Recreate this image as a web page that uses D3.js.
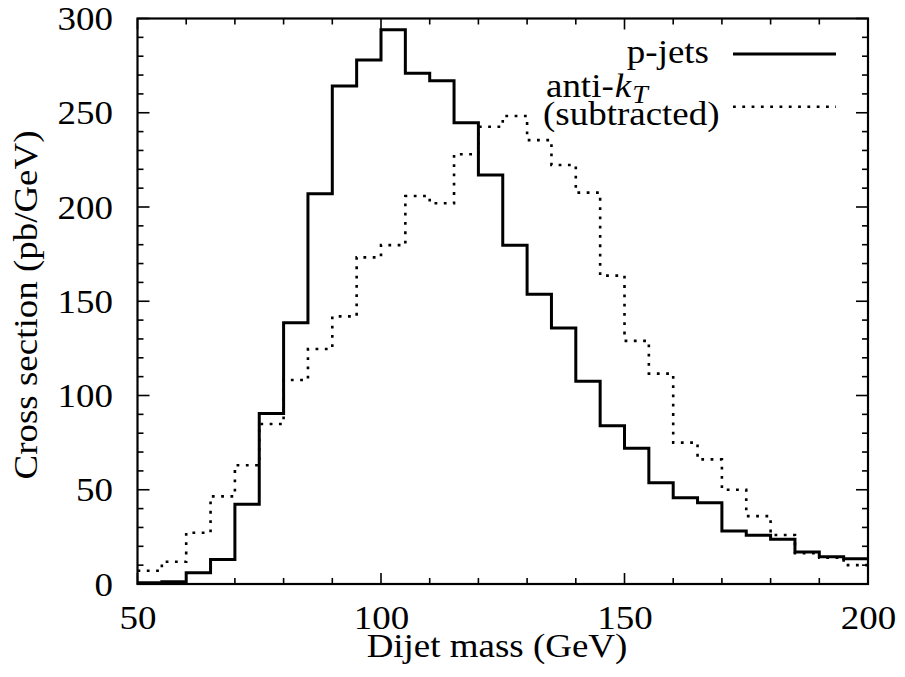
<!DOCTYPE html>
<html>
<head>
<meta charset="utf-8">
<script src="https://cdn.jsdelivr.net/npm/d3@7"></script>
<style>
  html, body { margin: 0; padding: 0; background: #fff; }
  svg { display: block; }
  text { font-family: "Liberation Serif", "Times New Roman", serif; fill: #000; }
</style>
</head>
<body>
<script>
// ---- data (bin lower edges in GeV; bins are 5 GeV wide) ----
const binStarts = [50,55,60,65,70,75,80,85,90,95,100,105,110,115,120,125,130,135,140,145,150,155,160,165,170,175,180,185,190,195];
const binWidth = 5;
const pjets = [0.6,1.2,6,13,42.3,90.5,138.6,207,264.2,278,294,271,267,244.7,217,179.7,153.7,135.8,107.5,84,72,53.7,45.8,43.1,28.1,25.8,23.7,17,14.5,13.4];
const antikt = [7,11.8,27.2,46.5,63,84.9,108.2,124.7,142,173.3,179.8,205.8,202,228,242.6,248.3,235.5,222.3,207.6,163.6,129,111.6,75,66.1,50,36,26,16.3,14,10];
const xTicks = [50,100,150,200];
const yTicks = [0,50,100,150,200,250,300];
const seriesNames = ["p-jets", "(subtracted)"];

const W = 905, H = 677;
const m = {left: 137.5, right: 868, top: 18.5, bottom: 584};

const svg = d3.select("body").append("svg").attr("width", W).attr("height", H);

const x = d3.scaleLinear().domain([50, 200]).range([m.left, m.right]);
const y = d3.scaleLinear().domain([0, 300]).range([m.bottom, m.top]);

const FS = 33;
const STRETCH = 1.12;
function stretch(sel) {
  sel.each(function () {
    const L = this.getComputedTextLength();
    d3.select(this).attr("textLength", L * STRETCH).attr("lengthAdjust", "spacingAndGlyphs");
  });
}

// minor & major ticks on all four sides
const xMinor = d3.range(50, 201, 10);
const yMinor = d3.range(0, 301, 10);
const tickG = svg.append("g").attr("stroke", "#000").attr("stroke-width", 1.6);
xMinor.forEach(v => {
  const major = xTicks.includes(v);
  const L = major ? 11 : 6;
  tickG.append("line").attr("x1", x(v)).attr("x2", x(v)).attr("y1", m.bottom).attr("y2", m.bottom - L);
  tickG.append("line").attr("x1", x(v)).attr("x2", x(v)).attr("y1", m.top).attr("y2", m.top + L);
});
yMinor.forEach(v => {
  const major = yTicks.includes(v);
  const L = major ? 12 : 6;
  tickG.append("line").attr("y1", y(v)).attr("y2", y(v)).attr("x1", m.left).attr("x2", m.left + L);
  tickG.append("line").attr("y1", y(v)).attr("y2", y(v)).attr("x1", m.right).attr("x2", m.right - L);
});

// axes labels via d3 axes (tick lines hidden, we drew our own)
const xAxis = d3.axisBottom(x).tickValues(xTicks).tickSize(0).tickPadding(0).tickFormat(d3.format("d"));
const gx = svg.append("g").attr("transform", `translate(0,${m.bottom})`).call(xAxis);
gx.select(".domain").remove();
gx.selectAll("text").attr("font-size", FS).attr("font-family", "Liberation Serif")
  .attr("dy", null).attr("y", 45).attr("fill", "#000").call(stretch);

const yAxis = d3.axisLeft(y).tickValues(yTicks).tickSize(0).tickPadding(0).tickFormat(d3.format("d"));
const gy = svg.append("g").call(yAxis);
gy.select(".domain").remove();
gy.selectAll("text").attr("font-size", FS).attr("font-family", "Liberation Serif")
  .attr("x", 113).attr("dy", "0.34em").attr("fill", "#000").call(stretch);

// histogram step lines
function stepData(vals) {
  const pts = binStarts.map((b, i) => [b, vals[i]]);
  pts.push([binStarts[binStarts.length - 1] + binWidth, vals[vals.length - 1]]);
  return pts;
}
const line = d3.line().x(d => x(d[0])).y(d => y(d[1])).curve(d3.curveStepAfter);

svg.append("path").datum(stepData(antikt)).attr("d", line)
  .attr("fill", "none").attr("stroke", "#000").attr("stroke-width", 2.6)
  .attr("stroke-dasharray", "2.8,6.5");
svg.append("path").datum(stepData(pjets)).attr("d", line)
  .attr("fill", "none").attr("stroke", "#000").attr("stroke-width", 3)
  .attr("stroke-linejoin", "miter");

// frame
svg.append("rect").attr("x", m.left).attr("y", m.top)
  .attr("width", m.right - m.left).attr("height", m.bottom - m.top)
  .attr("fill", "none").attr("stroke", "#000").attr("stroke-width", 2.2);

// axis titles
svg.append("text").attr("x", 497).attr("y", 657)
  .attr("text-anchor", "middle").attr("font-size", FS)
  .text("Dijet mass (GeV)").call(stretch);
svg.append("text").attr("transform", `translate(37,305) rotate(-90)`)
  .attr("text-anchor", "middle").attr("font-size", FS)
  .text("Cross section (pb/GeV)").call(stretch);

// legend
const lg = svg.append("g");
lg.append("text").attr("x", 709).attr("y", 63).attr("text-anchor", "end").attr("font-size", FS)
  .text(seriesNames[0]).call(stretch);
lg.append("line").attr("x1", 733).attr("x2", 836).attr("y1", 54).attr("y2", 54)
  .attr("stroke", "#000").attr("stroke-width", 3);
const t2 = lg.append("text").attr("transform", `translate(546,97) scale(${STRETCH},1)`).attr("font-size", FS);
t2.append("tspan").text("anti-");
t2.append("tspan").attr("font-style", "italic").attr("dx", 1).text("k");
t2.append("tspan").attr("font-style", "italic").attr("font-size", 25).attr("dx", 1).attr("dy", 6).text("T");
lg.append("text").attr("x", 543).attr("y", 125).attr("font-size", FS)
  .text(seriesNames[1]).call(stretch);
lg.append("line").attr("x1", 733).attr("x2", 836).attr("y1", 106.7).attr("y2", 106.7)
  .attr("stroke", "#000").attr("stroke-width", 2.6).attr("stroke-dasharray", "2.8,6.5");
</script>
</body>
</html>
